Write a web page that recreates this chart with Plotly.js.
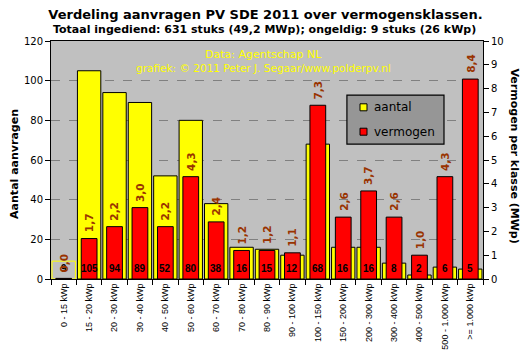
<!DOCTYPE html>
<html>
<head>
<meta charset="utf-8">
<script src="https://cdn.plot.ly/plotly-3.0.1.min.js"></script>
<style>html,body{margin:0;padding:0;background:#fff;}#chart{width:531px;height:361px;}</style>
</head>
<body>
<div id="chart"></div>
<script>
const categories = ['0 - 15 kWp','15 - 20 kWp','20 - 30 kWp','30 - 40 kWp','40 - 50 kWp','50 - 60 kWp','60 - 70 kWp','70 - 80 kWp','80 - 90 kWp','90 - 100 kWp','100 - 150 kWp','150 - 200 kWp','200 - 300 kWp','300 - 400 kWp','400 - 500 kWp','500 - 1.000 kWp','>= 1.000 kWp'];
const aantal = [9,105,94,89,52,80,38,16,15,12,68,16,16,8,2,6,5];
const vermogen = [0.026,1.7,2.2,3.0,2.2,4.3,2.4,1.2,1.2,1.1,7.3,2.6,3.7,2.6,1.0,4.3,8.4];
const leftTicks = [0,20,40,60,80,100,120];
const rightTicks = [0,1,2,3,4,5,6,7,8,9,10];
const seriesNames = ['aantal','vermogen'];

const fmt = v => v.toFixed(1).replace('.', ',');

const yellowFill = aantal.map((v,i) => i === 0 ? '#C0C0C0' : '#FFFF00');
const yellowLine = aantal.map((v,i) => i === 0 ? '#FFFF00' : '#000000');

const traces = [
  {type:'bar', name:seriesNames[0], x:categories, y:aantal, yaxis:'y', width:0.92, hoverinfo:'skip',
   marker:{color:yellowFill, line:{color:yellowLine, width:1}}},
  {type:'bar', name:seriesNames[1], x:categories, y:vermogen, yaxis:'y2', width:0.62, hoverinfo:'skip',
   marker:{color:'#FF0000', line:{color:'#000000', width:1}}}
];

const annotations = [];
categories.forEach((c,i) => {
  annotations.push({x:c, y:0, xref:'x', yref:'y', text:String(aantal[i]), showarrow:false,
    yanchor:'middle', yshift:11, font:{family:'Liberation Sans', size:10, color:'#000', weight:'bold'}});
  annotations.push({x:c, y:vermogen[i], xref:'x', yref:'y2', text:fmt(vermogen[i]), showarrow:false,
    textangle:-90, yanchor:'bottom', yshift:4, font:{family:'DejaVu Sans', size:10.5, color:'#993300', weight:'bold'}});
});

// legend (box, swatches, labels)
const legendSwatchColors = ['#FFFF00','#FF0000'];
const legendRowY = [0.7214, 0.6189];
const shapes = [
  {type:'rect', xref:'paper', yref:'paper', x0:0.685, x1:0.9097, y0:0.567, y1:0.773,
   fillcolor:'#969696', line:{color:'#000', width:1.2}, layer:'above'}
];
seriesNames.forEach((n,i) => {
  shapes.push({type:'rect', xref:'paper', yref:'paper', x0:0.7153, x1:0.7315,
    y0:legendRowY[i]-0.0147, y1:legendRowY[i]+0.0147, fillcolor:legendSwatchColors[i],
    line:{color:'#000', width:1}, layer:'above'});
  annotations.push({xref:'paper', yref:'paper', x:0.7424, y:legendRowY[i], xanchor:'left', yanchor:'middle',
    showarrow:false, text:n, font:{family:'DejaVu Sans', size:12, color:'#000'}});
});

annotations.push(
  {xref:'paper', yref:'paper', x:0.494, y:1.05, yanchor:'middle', showarrow:false,
   text:'<b>Totaal ingediend: 631 stuks (49,2 MWp); ongeldig: 9 stuks (26 kWp)</b>',
   font:{family:'DejaVu Sans', size:11, color:'#000'}},
  {xref:'paper', yref:'paper', x:0.493, y:0.945, yanchor:'middle', showarrow:false,
   text:'Data: Agentschap NL', font:{family:'DejaVu Sans', size:11, color:'#FFFF00'}},
  {xref:'paper', yref:'paper', x:0.492, y:0.887, yanchor:'middle', showarrow:false,
   text:'grafiek: © 2011 Peter J. Segaar/www.polderpv.nl', font:{family:'DejaVu Sans', size:10.5, color:'#FFFF00'}},
  {xref:'paper', yref:'paper', x:-0.086, y:0.483, xanchor:'center', yanchor:'middle', textangle:-90, showarrow:false,
   text:'<b>Aantal aanvragen</b>', font:{family:'DejaVu Sans', size:11, color:'#000'}},
  {xref:'paper', yref:'paper', x:1.074, y:0.515, xanchor:'center', yanchor:'middle', textangle:90, showarrow:false,
   text:'<b>Vermogen per klasse (MWp)</b>', font:{family:'DejaVu Sans', size:11, color:'#000'}}
);

const layout = {
  width:531, height:361,
  margin:{l:51, r:48, t:41, b:82, pad:0},
  paper_bgcolor:'#FFFFFF', plot_bgcolor:'#C0C0C0',
  title:{text:'<b>Verdeling aanvragen PV SDE 2011 over vermogensklassen.</b>', x:0.5, xref:'container',
         y:1-14/361, yref:'container', yanchor:'middle', font:{family:'DejaVu Sans', size:13, color:'#000'}},
  barmode:'overlay',
  showlegend:false,
  xaxis:{type:'category', tickson:'boundaries', ticks:'outside', ticklen:5, tickcolor:'#000', tickwidth:1,
         tickangle:-90, showline:true, linecolor:'#000', linewidth:1, mirror:true, showgrid:false,
         tickfont:{family:'Liberation Sans', size:9, color:'#000'}, fixedrange:true},
  yaxis:{range:[0,120], tickvals:leftTicks, ticks:'outside', ticklen:5, tickcolor:'#000',
         showline:true, linecolor:'#000', linewidth:1, showgrid:true, gridcolor:'#808080', griddash:'dash', gridwidth:1,
         zeroline:false, tickfont:{family:'DejaVu Sans', size:10, color:'#000'}, fixedrange:true},
  yaxis2:{range:[0,10], tickvals:rightTicks, overlaying:'y', side:'right', ticks:'outside', ticklen:5, tickcolor:'#000',
          showline:true, linecolor:'#000', linewidth:1, showgrid:false, zeroline:false,
          tickfont:{family:'DejaVu Sans', size:10, color:'#000'}, fixedrange:true},
  shapes:shapes,
  annotations:annotations
};

Plotly.newPlot('chart', traces, layout, {staticPlot:true, displayModeBar:false});
</script>
</body>
</html>
